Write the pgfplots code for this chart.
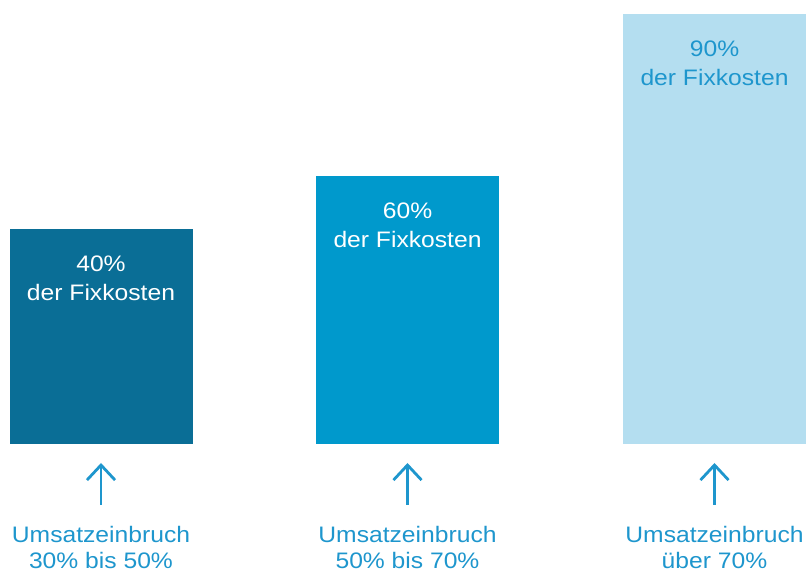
\documentclass[border=0pt]{standalone}
\usepackage{pgfplots}
\pgfplotsset{compat=1.18}
\usepackage{fontspec}
\setmainfont{Liberation Sans}
\usetikzlibrary{arrows.meta}
\definecolor{cA}{RGB}{10,110,150}
\definecolor{cB}{RGB}{0,153,204}
\definecolor{cC}{RGB}{180,222,240}
\definecolor{cT}{RGB}{30,150,205}
\newcommand{\lab}[1]{\scalebox{1.1}[1]{\fontsize{22.5}{27}\selectfont #1}}
\begin{document}
\begin{tikzpicture}
\begin{axis}[
  scale only axis, width=808bp, height=572bp,
  xmin=0, xmax=808, ymin=-128, ymax=444,
  hide axis, clip=false,
  every node/.append style={inner sep=0pt, outer sep=0pt},
]
\path (rel axis cs:0,0) rectangle (rel axis cs:1,1);
\addplot[ybar, bar width=183, bar shift=0, fill=cA, draw=none] coordinates {(101,215)};
\addplot[ybar, bar width=183, bar shift=0, fill=cB, draw=none] coordinates {(407.5,268)};
\addplot[ybar, bar width=183, bar shift=0, fill=cC, draw=none] coordinates {(714.5,430)};
% labels inside bars
\node[anchor=base, text=white] at (axis cs:101,172) {\lab{40\%}};
\node[anchor=base, text=white] at (axis cs:101,143) {\lab{der Fixkosten}};
\node[anchor=base, text=white] at (axis cs:407.5,225) {\lab{60\%}};
\node[anchor=base, text=white] at (axis cs:407.5,196) {\lab{der Fixkosten}};
\node[anchor=base, text=cT] at (axis cs:714.5,387) {\lab{90\%}};
\node[anchor=base, text=cT] at (axis cs:714.5,358) {\lab{der Fixkosten}};
% arrows
\draw[cT, line width=2.8bp, -{Straight Barb[length=15bp,width=28bp]}] (axis cs:101,-61) -- (axis cs:101,-19);
\draw[cT, line width=2.8bp, -{Straight Barb[length=15bp,width=28bp]}] (axis cs:407.5,-61) -- (axis cs:407.5,-19);
\draw[cT, line width=2.8bp, -{Straight Barb[length=15bp,width=28bp]}] (axis cs:714.5,-61) -- (axis cs:714.5,-19);
% bottom labels
\node[anchor=base, text=cT] at (axis cs:101,-98) {\lab{Umsatzeinbruch}};
\node[anchor=base, text=cT] at (axis cs:101,-124) {\lab{30\% bis 50\%}};
\node[anchor=base, text=cT] at (axis cs:407.5,-98) {\lab{Umsatzeinbruch}};
\node[anchor=base, text=cT] at (axis cs:407.5,-124) {\lab{50\% bis 70\%}};
\node[anchor=base, text=cT] at (axis cs:714.5,-98) {\lab{Umsatzeinbruch}};
\node[anchor=base, text=cT] at (axis cs:714.5,-124) {\lab{über 70\%}};
\end{axis}
\end{tikzpicture}
\end{document}
